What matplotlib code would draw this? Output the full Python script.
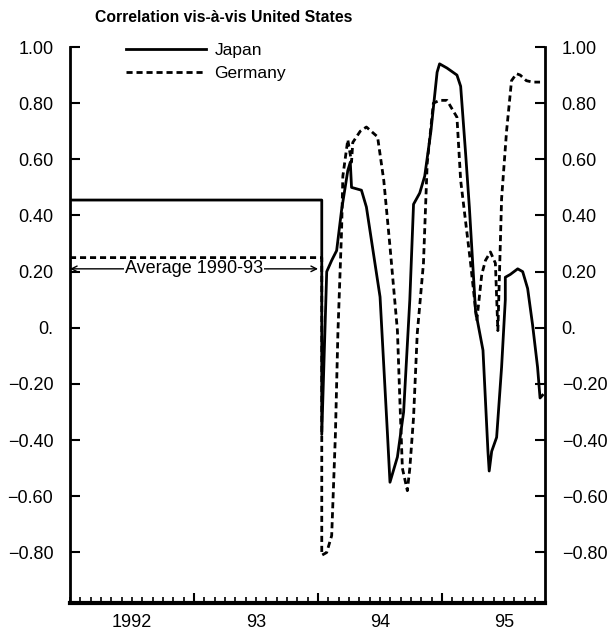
import matplotlib.pyplot as plt
from matplotlib.ticker import FixedLocator, NullFormatter, MultipleLocator

plt.rcParams['font.family'] = ['Liberation Sans', 'DejaVu Sans']

# Datos (anio decimal, correlacion)
jp_x = [1992.0, 1994.03, 1994.03, 1994.07, 1994.11, 1994.15, 1994.19, 1994.24, 1994.26,
        1994.27, 1994.35, 1994.39, 1994.50, 1994.56, 1994.58, 1994.64, 1994.69, 1994.74,
        1994.77, 1994.82, 1994.86, 1994.91, 1994.96, 1994.98, 1995.04, 1995.12, 1995.15,
        1995.19, 1995.22, 1995.27, 1995.33, 1995.37, 1995.38, 1995.40, 1995.44, 1995.48,
        1995.51, 1995.51, 1995.55, 1995.61, 1995.65, 1995.69, 1995.73, 1995.77, 1995.79,
        1995.81]
jp_y = [0.455, 0.455, -0.38, 0.20, 0.24, 0.275, 0.42, 0.56, 0.59,
        0.50, 0.49, 0.43, 0.11, -0.38, -0.55, -0.46, -0.30, 0.10,
        0.44, 0.48, 0.54, 0.70, 0.91, 0.94, 0.925, 0.90, 0.86,
        0.62, 0.43, 0.06, -0.08, -0.44, -0.51, -0.44, -0.39, -0.14,
        0.10, 0.18, 0.19, 0.21, 0.20, 0.14, 0.01, -0.14, -0.25,
        -0.24]

de_x = [1992.0, 1994.03, 1994.03, 1994.07, 1994.11, 1994.14, 1994.16, 1994.19, 1994.20,
        1994.24, 1994.27, 1994.28, 1994.34, 1994.39, 1994.48, 1994.53, 1994.58, 1994.64,
        1994.66, 1994.68, 1994.72, 1994.74, 1994.77, 1994.80, 1994.85, 1994.88, 1994.93,
        1994.98, 1995.04, 1995.12, 1995.15, 1995.23, 1995.28, 1995.32, 1995.35, 1995.39,
        1995.43, 1995.45, 1995.48, 1995.52, 1995.56, 1995.60, 1995.63, 1995.68, 1995.73,
        1995.79]
de_y = [0.25, 0.25, -0.81, -0.80, -0.74, -0.38, -0.02, 0.35, 0.54,
        0.67, 0.59, 0.66, 0.70, 0.715, 0.68, 0.525, 0.29, -0.01,
        -0.26, -0.50, -0.58, -0.50, -0.32, -0.02, 0.23, 0.585, 0.80,
        0.81, 0.81, 0.75, 0.525, 0.23, 0.025, 0.19, 0.24, 0.27,
        0.23, -0.01, 0.46, 0.70, 0.88, 0.905, 0.90, 0.88, 0.875,
        0.875]

y_ticks = [-0.8, -0.6, -0.4, -0.2, 0.0, 0.2, 0.4, 0.6, 0.8, 1.0]
y_labels = ['\u22120.80', '\u22120.60', '\u22120.40', '\u22120.20', '0.',
            '0.20', '0.40', '0.60', '0.80', '1.00']
anios = ['1992', '93', '94', '95']

fig = plt.figure(figsize=(6.11, 6.36), dpi=100)
ax = fig.add_axes([70 / 611, 33 / 636, 475 / 611, 556 / 636])

ax.plot(jp_x, jp_y, color='black', lw=2.0, label='Japan')
ax.plot(de_x, de_y, color='black', lw=2.0, ls=(0, (2.2, 1.4)), label='Germany')

# Flecha del promedio
ax.annotate('', xy=(1992.0, 0.21), xytext=(1994.0, 0.21),
            arrowprops=dict(arrowstyle='<->', color='black', lw=1.0,
                            shrinkA=0, shrinkB=0))
ax.text(1993.0, 0.21, 'Average 1990-93', ha='center', va='center', fontsize=13,
        bbox=dict(facecolor='white', edgecolor='none', pad=0.5))

ax.set_xlim(1992.0, 1995.83)
ax.set_ylim(-0.98, 1.0)

# Eje x: marcas mensuales, etiquetas de anio centradas
ax.xaxis.set_major_locator(FixedLocator([1993, 1994, 1995]))
ax.xaxis.set_minor_locator(MultipleLocator(1 / 12))
ax.xaxis.set_major_formatter(NullFormatter())
ax.tick_params(axis='x', which='major', direction='in', length=7, width=1.5)
ax.tick_params(axis='x', which='minor', direction='in', length=4, width=1.2)
for i, a in enumerate(anios):
    ax.text(1992.5 + i, -1.02, a, ha='center', va='top', fontsize=13)

ax.set_yticks(y_ticks)
ax.set_yticklabels(y_labels, fontsize=13)
ax.tick_params(axis='y', direction='in', length=7, width=1.5, pad=12,
               left=True, right=True, labelright=True)

ax.spines['top'].set_visible(False)
ax.spines['left'].set_linewidth(2)
ax.spines['right'].set_linewidth(2)
ax.spines['bottom'].set_linewidth(3)

ax.legend(loc='upper left', bbox_to_anchor=(0.085, 1.035), frameon=False, fontsize=12.5,
          handlelength=4.6, handletextpad=0.5, labelspacing=0.45)

fig.text(95 / 611, 1 - 18 / 636, 'Correlation vis-\u00e0-vis United States',
         fontsize=11.3, fontweight='bold', ha='left', va='center')

fig.savefig('out.png', dpi=100)
